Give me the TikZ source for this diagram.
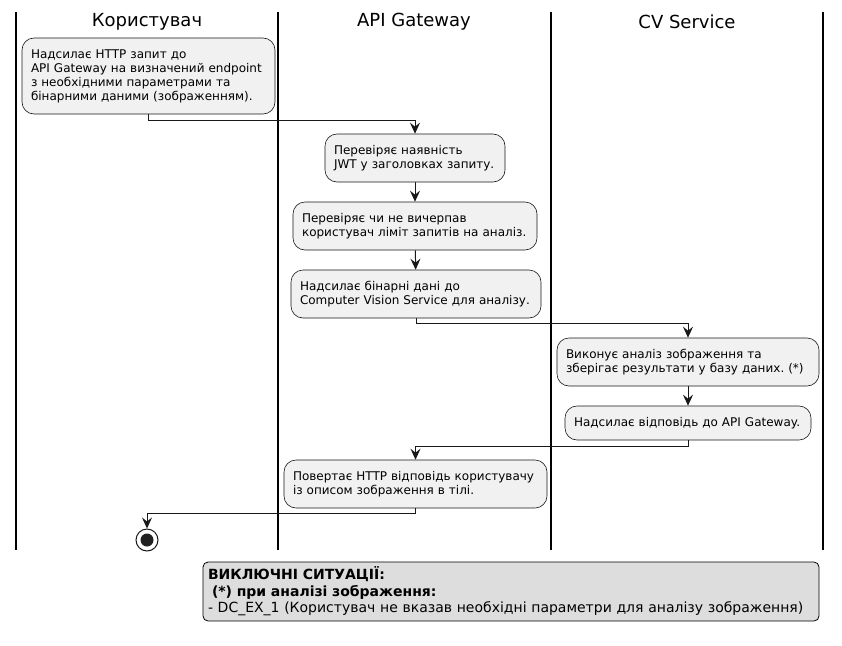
\documentclass[tikz,border=0pt]{standalone}
\usepackage{fontspec}
\setmainfont{DejaVu Sans}
\usetikzlibrary{arrows.meta}
\definecolor{boxfill}{HTML}{F1F1F1}
\definecolor{boxline}{HTML}{181818}
\definecolor{notefill}{HTML}{DDDDDD}
\frenchspacing
\begin{document}
\begin{tikzpicture}[x=1pt,y=-1pt,
  act/.style={draw=boxline,fill=boxfill,line width=0.6pt,rounded corners=12pt,
    align=left,inner xsep=9pt,inner ysep=0pt,font=\fontsize{12}{14}\selectfont},
  arr/.style={draw=boxline,line width=1pt,-{Stealth[length=11pt,width=10pt,inset=4pt]}},
  lane/.style={draw=black,line width=1.3pt},
  title/.style={font=\fontsize{18}{20}\selectfont},
  note/.style={draw=black,fill=notefill,line width=0.8pt,rounded corners=5pt,
    align=left,inner xsep=5pt,inner ysep=0pt,font=\fontsize{14}{16.5}\selectfont}]
\useasboundingbox (0,0) rectangle (842,645);
% lanes
\draw[lane] (16,12) -- (16,550);
\draw[lane] (278,12) -- (278,550);
\draw[lane] (551,12) -- (551,550);
\draw[lane] (823,12) -- (823,550);
\node[title] (t1) at (147,22) {Користувач};
\node[title] (t2) at (414,22) {API Gateway};
\node[title] (t3) at (687,22) {CV Service};
% activities
\node[act,text width=235pt,minimum height=76pt] (b1) at (148.5,76)
  {Надсилає HTTP запит до\\API Gateway на визначений endpoint\\з необхідними параметрами та\\бінарними даними (зображенням).};
\node[act,text width=162pt,minimum height=48pt] (b2) at (415,158)
  {Перевіряє наявність\\JWT у заголовках запиту.};
\node[act,text width=226pt,minimum height=48pt] (b3) at (415,226)
  {Перевіряє чи не вичерпав\\користувач ліміт запитів на аналіз.};
\node[act,text width=232pt,minimum height=48pt] (b4) at (416,294)
  {Надсилає бінарні дані до\\Computer Vision Service для аналізу.};
\node[act,text width=244pt,minimum height=48pt] (b5) at (688,362)
  {Виконує аналіз зображення та\\зберігає результати у базу даних. (*)};
\node[act,text width=228pt,minimum height=34pt] (b6) at (688,423)
  {Надсилає відповідь до API Gateway.};
\node[act,text width=245pt,minimum height=48pt] (b7) at (415.5,484)
  {Повертає HTTP відповідь користувачу\\із описом зображення в тілі.};
% end
\node[circle,draw=boxline,fill=white,line width=1pt,minimum size=22pt,inner sep=0pt] (end) at (147,540) {};
\fill[black!87] (end.center) circle (6.5pt);
% connectors
\draw[arr] (b1.south) -- ++(0,6) -| (b2.north);
\draw[arr] (b2) -- (b3);
\draw[arr] (b3) -- (b4);
\draw[arr] (b4.south) -- ++(0,5) -| (b5.north);
\draw[arr] (b5) -- (b6);
\draw[arr] (b6.south) -- ++(0,6) -| (b7.north);
\draw[arr] (b7.south) -- ++(0,5) -| (end.north);
% note
\node[note,text width=606pt,minimum height=59pt] (n) at (511,591.5)
  {\textbf{ВИКЛЮЧНІ СИТУАЦІЇ:}\\\hspace*{4pt}\textbf{(*) при аналізі зображення:}\\- DC\_EX\_1 (Користувач не вказав необхідні параметри для аналізу зображення)};
\end{tikzpicture}
\end{document}
